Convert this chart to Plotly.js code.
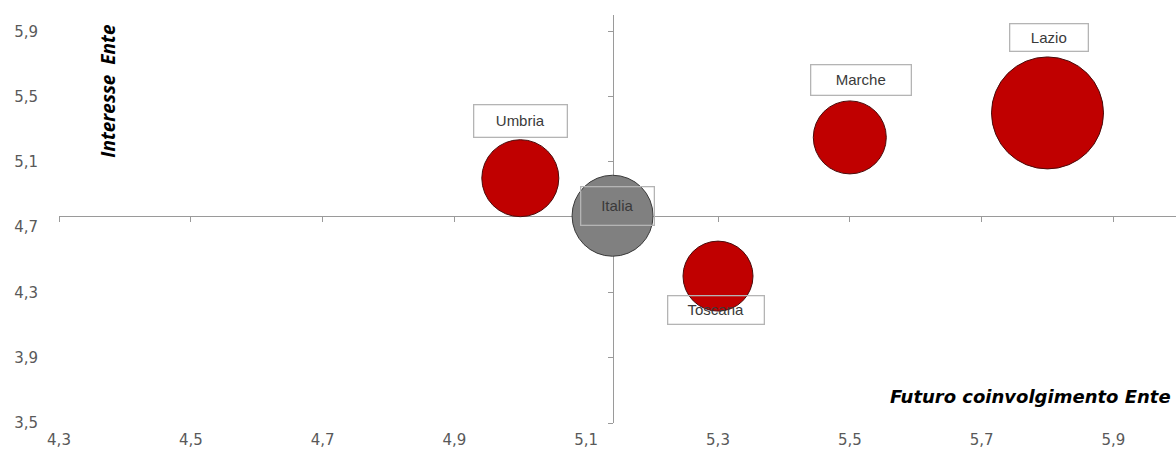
<!DOCTYPE html>
<html>
<head>
<meta charset="utf-8">
<script src="https://cdn.plot.ly/plotly-3.0.1.min.js"></script>
<style>html,body{margin:0;padding:0;background:#fff;}#chart{width:1176px;height:459px;}</style>
</head>
<body>
<div id="chart"></div>
<script>
// ---- data ----
const regions = ["Umbria", "Italia", "Toscana", "Marche", "Lazio"];
const futuroCoinvolgimento = [5.0, 5.14, 5.3, 5.5, 5.8];   // x
const interesseEnte = [5.0, 4.77, 4.4, 5.25, 5.4];         // y
const bubbleSize = [77, 81, 70, 73, 112];
const xTickVals = [4.3, 4.5, 4.7, 4.9, 5.1, 5.3, 5.5, 5.7, 5.9];
const yTickVals = [3.5, 3.9, 4.3, 4.7, 5.1, 5.5, 5.9];
const xTitle = "Futuro coinvolgimento Ente";
const yTitle = "Interesse  Ente";
const crossRegion = "Italia";

// ---- styles ----
const xRange = [4.3, 5.995];
const yRange = [3.5, 6.0];
const fillColors = {Italia: "#808080"};
const lineColors = {Italia: "#3a3a3a"};
const labelStyle = {
  Umbria: {xs: 0, ys: 57, w: 92, h: 31, bg: "rgba(255,255,255,0.9)"},
  Italia: {xs: 5, ys: 10, w: 72, h: 37, bg: "rgba(255,255,255,0)"},
  Toscana: {xs: -2, ys: -34, w: 95, h: 27, bg: "rgba(255,255,255,0)"},
  Marche: {xs: 11, ys: 57, w: 99, h: 29, bg: "rgba(255,255,255,0.9)"},
  Lazio: {xs: 1, ys: 75, w: 77, h: 26, bg: "rgba(255,255,255,0.9)"}
};

const ci = regions.indexOf(crossRegion);
const crossX = futuroCoinvolgimento[ci];
const crossY = interesseEnte[ci];

const bubbles = {
  type: "scatter", mode: "markers",
  x: futuroCoinvolgimento, y: interesseEnte, text: regions,
  xaxis: "x", yaxis: "y",
  cliponaxis: false,
  hoverinfo: "text+x+y",
  marker: {
    size: bubbleSize, sizemode: "diameter", sizeref: 1,
    color: regions.map(r => fillColors[r] || "#c00000"),
    opacity: 1,
    line: {color: regions.map(r => lineColors[r] || "#4a0a0a"), width: 1}
  }
};
// invisible companion trace so the crossing axes are laid out
const crossTrace = {
  type: "scatter", mode: "markers",
  x: futuroCoinvolgimento, y: interesseEnte,
  xaxis: "x2", yaxis: "y2",
  hoverinfo: "skip", showlegend: false,
  marker: {size: 1, opacity: 0}
};

const annotations = regions.map((r, i) => {
  const s = labelStyle[r];
  return {
    x: futuroCoinvolgimento[i], y: interesseEnte[i], xref: "x", yref: "y",
    text: r, showarrow: false, xshift: s.xs, yshift: s.ys,
    width: s.w, height: s.h, align: "center", valign: "middle",
    bordercolor: "#b4b4b4", borderwidth: 1.3, borderpad: 0, bgcolor: s.bg,
    font: {family: "Liberation Sans, Arial, sans-serif", size: 15, color: "#3a3a3a"}
  };
});
annotations.push({
  xref: "paper", yref: "paper", x: 0.997, y: 0.064, xanchor: "right", yanchor: "middle",
  text: "<b><i>" + xTitle + "</i></b>", showarrow: false,
  font: {family: "DejaVu Sans, sans-serif", size: 18, color: "#000"}
});
annotations.push({
  xref: "paper", yref: "paper", x: 0.044, y: 0.815, xanchor: "center", yanchor: "middle",
  text: "<b><i>" + yTitle + "</i></b>", showarrow: false, textangle: -90,
  font: {family: "Open Sans, sans-serif", size: 19, color: "#000"}
});

const tickFont = {family: "DejaVu Sans, sans-serif", size: 15, color: "#595959"};
const layout = {
  width: 1176, height: 459,
  margin: {l: 59, r: 0, t: 15, b: 36},
  paper_bgcolor: "#ffffff", plot_bgcolor: "rgba(0,0,0,0)",
  separators: ",.",
  showlegend: false,
  xaxis: {
    range: xRange, tickvals: xTickVals, ticktext: xTickVals.map(v => v.toFixed(1).replace(".", ",")),
    showgrid: false, zeroline: false, showline: false, ticks: "",
    tickfont: tickFont, ticklabelstandoff: 6
  },
  yaxis: {
    range: yRange, tickvals: yTickVals, ticktext: yTickVals.map(v => v.toFixed(1).replace(".", ",")),
    showgrid: false, zeroline: false, showline: false, ticks: "",
    tickfont: tickFont, ticklabelstandoff: 20
  },
  xaxis2: {
    overlaying: "x", anchor: "free",
    position: (crossY - yRange[0]) / (yRange[1] - yRange[0]),
    range: xRange, tickvals: xTickVals, showticklabels: false,
    showgrid: false, zeroline: false, showline: true, linecolor: "#9a9a9a", linewidth: 1,
    ticks: "outside", ticklen: 5, tickcolor: "#9a9a9a", layer: "below traces"
  },
  yaxis2: {
    overlaying: "y", anchor: "free",
    position: (crossX - xRange[0]) / (xRange[1] - xRange[0]),
    range: yRange, tickvals: yTickVals, showticklabels: false,
    showgrid: false, zeroline: false, showline: true, linecolor: "#9a9a9a", linewidth: 1,
    ticks: "outside", ticklen: 5, tickcolor: "#9a9a9a", layer: "below traces"
  },
  annotations: annotations
};

Plotly.newPlot("chart", [crossTrace, bubbles], layout, {displayModeBar: false, staticPlot: true});
</script>
</body>
</html>
